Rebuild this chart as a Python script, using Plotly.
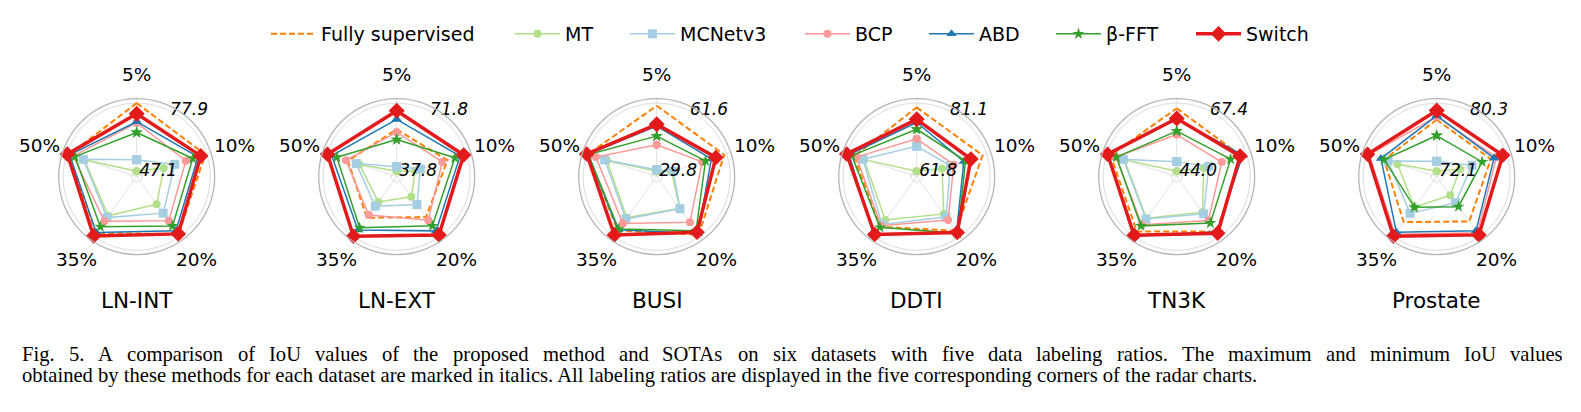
import math
import plotly.graph_objects as go

W, H = 1581, 412

ratios = ["5%", "10%", "20%", "35%", "50%"]
datasets = ["LN-INT", "LN-EXT", "BUSI", "DDTI", "TN3K", "Prostate"]
methods = ["Fully supervised", "MT", "MCNetv3", "BCP", "ABD", "β-FFT", "Switch"]

# IoU values per dataset, per method, in ratio order 5%,10%,20%,35%,50%
fully_supervised = [
    [77.9, 77.2, 76.8, 76.0, 76.8],
    [58.7, 61.7, 60.0, 60.4, 60.7],
    [60.4, 60.4, 60.7, 58.3, 61.0],
    [79.9, 79.9, 79.2, 77.8, 78.9],
    [65.6, 65.4, 65.4, 65.4, 66.0],
    [78.3, 78.3, 78.1, 78.2, 78.1],
]
mt = [
    [47.1, 57.5, 60.0, 66.5, 69.5],
    [37.8, 44.8, 47.5, 50.7, 54.6],
    [29.8, 34.6, 45.5, 51.0, 51.7],
    [61.8, 67.8, 73.3, 75.4, 75.9],
    [44.0, 51.9, 57.2, 59.8, 61.1],
    [72.1, 74.4, 74.2, 76.0, 76.4],
]
mcnetv3 = [
    [52.3, 62.7, 65.0, 67.5, 70.0],
    [40.1, 47.5, 52.3, 53.3, 56.3],
    [30.5, 35.4, 45.7, 51.7, 52.8],
    [68.9, 70.3, 74.4, 77.0, 76.3],
    [47.3, 53.7, 57.9, 60.1, 61.4],
    [73.3, 75.9, 75.3, 76.9, 77.6],
]
bcp = [
    [69.0, 68.0, 69.3, 69.5, 74.8],
    [57.3, 59.0, 61.9, 58.7, 61.7],
    [42.2, 49.6, 53.6, 54.2, 57.1],
    [71.0, 71.3, 75.4, 77.4, 78.2],
    [56.6, 58.4, 60.7, 62.5, 64.0],
    [78.7, 79.0, 79.8, 80.0, 80.0],
]
abd = [
    [69.5, 73.8, 74.8, 75.8, 76.5],
    [63.7, 68.3, 68.5, 68.0, 69.2],
    [50.9, 54.1, 60.0, 57.9, 61.0],
    [75.6, 74.3, 79.5, 80.8, 80.4],
    [62.0, 66.0, 65.5, 67.4, 67.0],
    [78.8, 78.7, 79.5, 79.7, 78.5],
]
beta_fft = [
    [64.6, 71.3, 72.2, 72.6, 74.0],
    [53.6, 65.6, 65.4, 66.6, 66.5],
    [46.2, 51.2, 58.5, 57.5, 60.8],
    [73.7, 74.8, 80.1, 78.0, 79.6],
    [57.8, 61.6, 61.8, 63.0, 63.9],
    [76.4, 77.2, 75.9, 76.0, 78.1],
]
switch = [
    [73.1, 75.1, 76.6, 77.8, 77.6],
    [68.0, 70.2, 71.0, 71.8, 71.4],
    [51.7, 56.3, 59.3, 60.9, 61.6],
    [76.5, 76.4, 79.8, 80.5, 81.1],
    [62.1, 65.0, 66.1, 67.0, 67.1],
    [79.4, 79.8, 80.1, 80.3, 80.2],
]

series = [fully_supervised, mt, mcnetv3, bcp, abd, beta_fft, switch]

caption1 = ("Fig. 5.  A comparison of IoU values of the proposed method and SOTAs on six datasets "
            "with five data labeling ratios. The maximum and minimum IoU values")
caption2 = ("obtained by these methods for each dataset are marked in italics. All labeling ratios "
            "are displayed in the five corresponding corners of the radar charts.")

styles = {
    "Fully supervised": dict(color="#ff7f00", width=2, dash="6px,3px", symbol=None, size=0),
    "MT": dict(color="#b2df8a", width=1.5, dash="solid", symbol="circle", size=8),
    "MCNetv3": dict(color="#a6cee3", width=1.5, dash="solid", symbol="square", size=9),
    "BCP": dict(color="#fb9a99", width=1.5, dash="solid", symbol="circle", size=8),
    "ABD": dict(color="#1f78b4", width=1.5, dash="solid", symbol="triangle-up", size=9),
    "β-FFT": dict(color="#33a02c", width=1.5, dash="solid", symbol="star", size=9),
    "Switch": dict(color="#e31a1c", width=3.5, dash="solid", symbol="diamond", size=12),
}
# legend text start positions (px)
legend_text_x = [321, 565, 680, 855, 979, 1106, 1246]

angles = [0, 72, 144, 216, 288]
FONT = "DejaVu Sans"

fig = go.Figure()
R = 78
cy = 176.7
LAB_R = 102.5
for k, ds in enumerate(datasets):
    pname = "polar" if k == 0 else f"polar{k+1}"
    cx = 136.7 + 260 * k
    allv = [v for s in series for v in s[k]]
    mn, mx = min(allv), max(allv)
    span = mx - mn
    lo, hi = mn - 0.08 * span, mx + 0.065 * span
    for i, (m, s) in enumerate(zip(methods, series)):
        st = styles[m]
        vals = s[k] + [s[k][0]]
        th = angles + [angles[0]]
        mode = "lines" if st["symbol"] is None else "lines+markers"
        tr = go.Scatterpolar(
            r=vals, theta=th, mode=mode, name=m, subplot=pname,
            legendgroup=m, showlegend=(k == 0),
            legend="legend" if i == 0 else f"legend{i+1}",
            line=dict(color=st["color"], width=st["width"], dash=st["dash"]),
            hoverinfo="skip", cliponaxis=False,
        )
        if st["symbol"] is not None:
            tr.marker = dict(symbol=st["symbol"], size=st["size"], color=st["color"],
                             line=dict(width=0))
        fig.add_trace(tr)
    fig.add_trace(go.Scatterpolar(
        r=[mn, mx], theta=[27, 27], mode="text", subplot=pname,
        text=[f"{mn:.1f}", f"{mx:.1f}"], textposition="middle right",
        textfont=dict(family=FONT, size=17, color="black", style="italic"),
        showlegend=False, hoverinfo="skip", cliponaxis=False,
    ))
    fig.update_layout(**{pname: dict(
        domain=dict(x=[(cx - R) / W, (cx + R) / W],
                    y=[(H - cy - R) / H, (H - cy + R) / H]),
        bgcolor="white",
        angularaxis=dict(
            rotation=90, direction="clockwise", thetaunit="degrees",
            tickmode="array", tickvals=angles, ticktext=ratios,
            showticklabels=False, ticks="",
            showline=True, linecolor="#b5b5b5", linewidth=1.3,
            showgrid=True, gridcolor="#e3e3e3", gridwidth=1,
        ),
        radialaxis=dict(
            range=[lo, hi], tickmode="array", tickvals=[mn, mx],
            showticklabels=False, ticks="", showline=False,
            showgrid=True, gridcolor="#dcdcdc", gridwidth=1,
        ),
    )})
    # corner labels
    for a, lab in zip(angles, ratios):
        rad = math.radians(a)
        lx = cx + LAB_R * math.sin(rad)
        ly = cy - LAB_R * math.cos(rad)
        fig.add_annotation(
            text=lab, x=lx / W, y=(H - ly) / H, xref="paper", yref="paper",
            xanchor="center", yanchor="middle", showarrow=False,
            font=dict(family=FONT, size=18.5, color="black"),
        )
    fig.add_annotation(
        text=ds, x=cx / W, y=(H - 300) / H, xref="paper", yref="paper",
        xanchor="center", yanchor="middle", showarrow=False,
        font=dict(family=FONT, size=21.5, color="black"),
    )

# --- caption (Times-like, first line justified) ---
TW = {' ': 250, 'a': 444, 'b': 500, 'c': 444, 'd': 500, 'e': 444, 'f': 333, 'g': 500,
      'h': 500, 'i': 278, 'j': 278, 'k': 500, 'l': 278, 'm': 778, 'n': 500, 'o': 500,
      'p': 500, 'q': 500, 'r': 333, 's': 389, 't': 278, 'u': 500, 'v': 500, 'w': 722,
      'x': 500, 'y': 500, 'z': 444, 'A': 722, 'F': 556, 'I': 333, 'O': 722, 'S': 556,
      'T': 611, 'U': 722, '.': 250, '5': 500, ',': 250}
CAP_FS = 20.6


def tw(s):
    return sum(TW.get(c, 500) for c in s) / 1000 * CAP_FS


x0, x1 = 20, 1561
words = caption1.split()
total = sum(tw(w) for w in words)
gap = (x1 - x0 - total) / (len(words) - 1)
xx = x0
for w in words:
    fig.add_annotation(
        text=w, x=xx / W, y=(H - 354) / H, xref="paper", yref="paper",
        xanchor="left", yanchor="middle", showarrow=False,
        font=dict(family="Liberation Serif", size=CAP_FS, color="black"),
    )
    xx += tw(w) + gap
fig.add_annotation(
    text=caption2, x=x0 / W, y=(H - 375) / H, xref="paper", yref="paper",
    xanchor="left", yanchor="middle", showarrow=False,
    font=dict(family="Liberation Serif", size=CAP_FS, color="black"),
)

layout_legends = {}
for i, tx in enumerate(legend_text_x):
    lname = "legend" if i == 0 else f"legend{i+1}"
    layout_legends[lname] = dict(
        orientation="h", x=(tx - 55) / W, xanchor="left", y=(H - 34) / H, yanchor="middle",
        font=dict(family=FONT, size=19, color="black"),
        bgcolor="rgba(0,0,0,0)", itemwidth=45, borderwidth=0,
    )

fig.update_layout(
    width=W, height=H, autosize=False,
    margin=dict(l=0, r=0, t=0, b=0),
    paper_bgcolor="white", plot_bgcolor="white",
    showlegend=True,
    **layout_legends,
)

fig.write_html("out.html")
